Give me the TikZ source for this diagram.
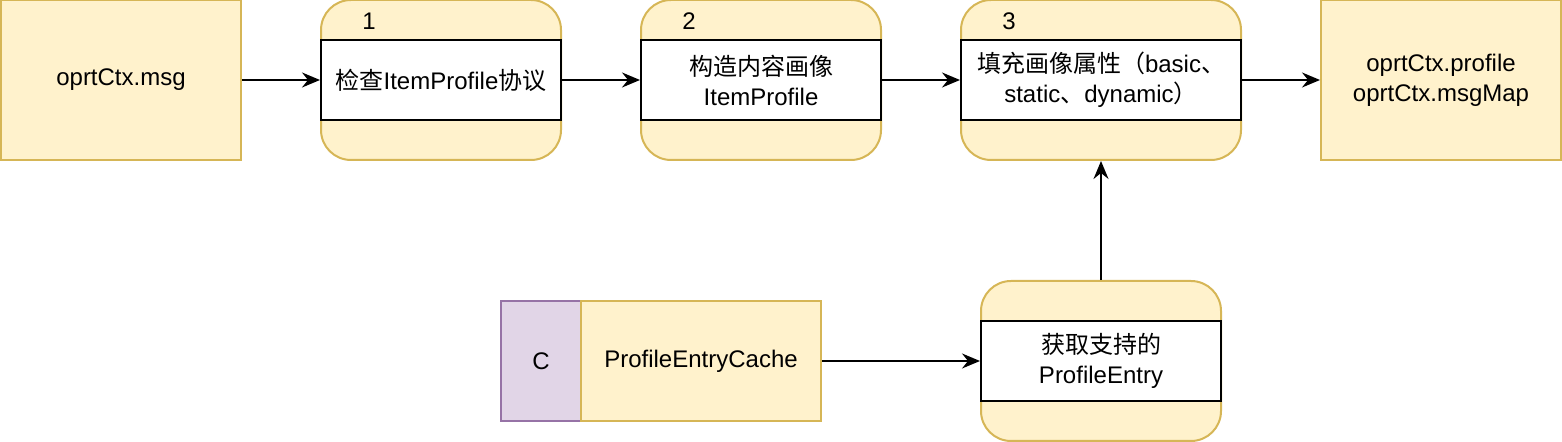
\documentclass[tikz,border=0pt]{standalone}
\usepackage{fontspec}
\setmainfont{Liberation Sans}
\newfontfamily\cjk{Noto Sans CJK SC}
\usetikzlibrary{arrows.meta}
\definecolor{ylfill}{HTML}{FFF2CC}
\definecolor{yldraw}{HTML}{D6B656}
\definecolor{ppfill}{HTML}{E1D5E7}
\definecolor{ppdraw}{HTML}{9673A6}
\begin{document}
\begin{tikzpicture}[x=0.5pt,y=-0.5pt,
  font=\fontsize{12}{15}\selectfont,
  every node/.style={inner sep=0pt,line width=1pt},
  databox/.style={draw=yldraw,fill=ylfill,minimum width=120pt,minimum height=80pt,align=center},
  procbox/.style={draw=yldraw,fill=ylfill,rounded corners=15pt,minimum width=120pt,minimum height=80pt},
  procbody/.style={draw=black,fill=white,minimum width=120pt,minimum height=40pt,align=center},
  arr/.style={-{Stealth[length=9pt,width=7.5pt,inset=3pt]},line width=1pt}]
\useasboundingbox (0,0) rectangle (1562,442);
%
\node[databox](msg) at (121,80) {oprtCtx.msg};
%
\node[procbox](p1) at (441,80) {};
\node[procbody](p1b) at (441,80) {{\cjk 检查}ItemProfile{\cjk 协议}};
\node(n1) at (369,21) {1};
%
\node[procbox](p2) at (761,80) {};
\node[procbody](p2b) at (761,80) {{\cjk 构造内容画像}\\ItemProfile};
\node(n2) at (689,21) {2};
%
\node[procbox,minimum width=140pt](p3) at (1101,80) {};
\node[procbody,minimum width=140pt](p3b) at (1101,80) {{\cjk 填充画像属性（}basic{\cjk 、}\\static{\cjk 、}dynamic{\cjk ）}};
\node(n3) at (1009,21) {3};
%
\node[databox](out) at (1441,80) {oprtCtx.profile\\oprtCtx.msgMap};
%
\node[draw=ppdraw,fill=ppfill,minimum width=40pt,minimum height=60pt](c) at (541,361) {C};
\node[databox,minimum height=60pt](cache) at (701,361) {ProfileEntryCache};
%
\node[procbox](p4) at (1101,361) {};
\node[procbody](p4b) at (1101,361) {{\cjk 获取支持的}\\ProfileEntry};
%
\draw[arr](msg) -- (p1);
\draw[arr](p1) -- (p2);
\draw[arr](p2) -- (p3);
\draw[arr](p3) -- (out);
\draw[arr](cache) -- (p4);
\draw[arr](p4) -- (p3);
\end{tikzpicture}
\end{document}
